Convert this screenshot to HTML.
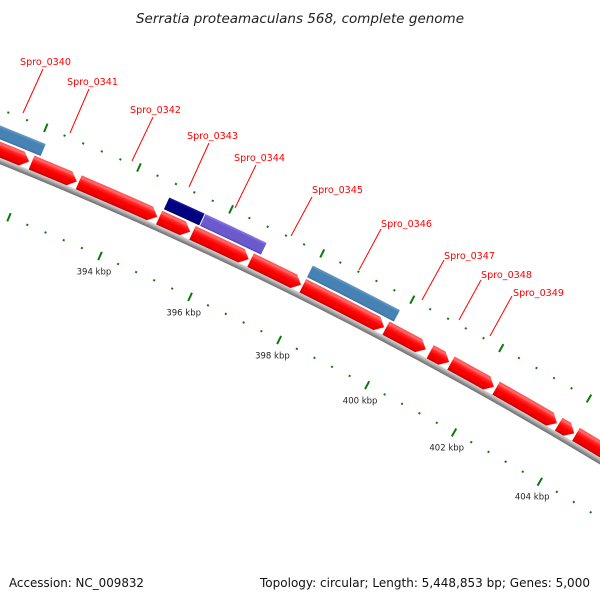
<!DOCTYPE html>
<html><head><meta charset="utf-8">
<style>
html,body{margin:0;padding:0;background:#fff;width:600px;height:600px;overflow:hidden;}
svg{display:block;overflow:hidden;}
text{font-family:"DejaVu Sans","Liberation Sans",sans-serif;}
</style></head>
<body>
<svg id="chart" width="600" height="600" viewBox="0 0 600 600" xmlns="http://www.w3.org/2000/svg">
<defs id="defs"></defs>
<rect width="600" height="600" fill="#fff"/>
<g id="plot"></g>
<text x="300" y="23" text-anchor="middle" font-size="13" font-style="italic" fill="#222" textLength="328" lengthAdjust="spacingAndGlyphs">Serratia proteamaculans 568, complete genome</text>
<text x="9" y="587" font-size="12" fill="#111" textLength="135" lengthAdjust="spacingAndGlyphs">Accession: NC_009832</text>
<text x="590" y="587" text-anchor="end" font-size="12" fill="#111" textLength="330" lengthAdjust="spacingAndGlyphs">Topology: circular; Length: 5,448,853 bp; Genes: 5,000</text>
</svg>
<script>
// ---- data (kbp) ----
const fwdStarts = [390.6, 392.0, 393.02, 394.77, 395.5, 396.78, 397.94, 399.8, 400.8, 401.27, 402.3, 403.74, 404.14];
const fwdEnds   = [391.95, 392.98, 394.73, 395.45, 396.74, 397.9, 399.76, 400.7, 401.23, 402.25, 403.7, 404.1, 406.0];
const otherStarts = [390.0, 394.79, 395.58, 397.94];
const otherEnds   = [392.12, 395.56, 396.92, 399.88];
const otherColors = ["steelblue", "navy", "slateblue", "steelblue"];
const tickLabels = [394, 396, 398, 400, 402, 404];
const geneNames = ["Spro_0340","Spro_0341","Spro_0342","Spro_0343","Spro_0344","Spro_0345","Spro_0346","Spro_0347","Spro_0348","Spro_0349"];
const geneLabelX = [20, 67, 130, 187, 234, 312, 381, 444, 481, 513];
const geneLabelY = [65, 85, 113, 139, 161, 193, 227, 259, 278, 296];
const geneLineTop = [[43,69],[89,89],[153,117],[209,143],[256,165],[312,197],[381,229],[444,260],[481,280],[512,296]];
const geneLineBot = [[23,113],[70,133],[132,161],[189,187],[235,208],[291,236],[359,270],[422,300],[459,320],[490,336]];

// ---- geometry: arc through backbone ----
const NS = "http://www.w3.org/2000/svg";
function circ(p1,p2,p3){
  const [ax,ay]=p1,[bx,by]=p2,[cx,cy]=p3;
  const d=2*(ax*(by-cy)+bx*(cy-ay)+cx*(ay-by));
  const ux=((ax*ax+ay*ay)*(by-cy)+(bx*bx+by*by)*(cy-ay)+(cx*cx+cy*cy)*(ay-by))/d;
  const uy=((ax*ax+ay*ay)*(cx-bx)+(bx*bx+by*by)*(ax-cx)+(cx*cx+cy*cy)*(bx-ax))/d;
  return [ux,uy,Math.hypot(ax-ux,ay-uy)];
}
const [CX,CY,R]=circ([0,161],[300,296],[600,461]);
const cal1=[100,256], cal2=[542,478];
const th1=Math.atan2(cal1[1]-CY,cal1[0]-CX), th2=Math.atan2(cal2[1]-CY,cal2[0]-CX);
const RIN=Math.hypot(cal1[0]-CX,cal1[1]-CY);
function theta(kbp){return th1+(kbp-394)*(th2-th1)/10;}
function pt(kbp,r){const t=theta(kbp);return [CX+r*Math.cos(t),CY+r*Math.sin(t)];}
function f(n){return n.toFixed(2);}

const plot=document.getElementById('plot');
const defs=document.getElementById('defs');
function grad(id,stops,r1){
  const g=document.createElementNS(NS,'radialGradient');
  g.setAttribute('id',id);g.setAttribute('gradientUnits','userSpaceOnUse');
  g.setAttribute('cx',CX);g.setAttribute('cy',CY);g.setAttribute('r',r1);
  stops.forEach(([rr,c])=>{const s=document.createElementNS(NS,'stop');
    s.setAttribute('offset',Math.max(0,Math.min(1,rr/r1)));s.setAttribute('stop-color',c);g.appendChild(s);});
  defs.appendChild(g);
}
grad('gBack',[[R-3,'#6e6e6e'],[R-1,'#8a8a8a'],[R+1,'#b5b5b5'],[R+3,'#d8d8d8']],R+3);
grad('gRed',[[R+3,'#b00000'],[R+4.5,'#e60000'],[R+10,'#ff0000'],[R+13.5,'#ff2a2a'],[R+15.5,'#ff6a6a'],[R+18,'#ff5050']],R+18);
const blueMap={steelblue:['#3a6c99','#4682b4','#6a9cc8'],navy:['#00004a','#000080','#1a1a8e'],slateblue:['#5040b0','#6a5acd','#8a7ce0']};
Object.keys(blueMap).forEach(k=>{const c=blueMap[k];
  grad('g_'+k,[[R+20,c[0]],[R+22,c[1]],[R+30,c[1]],[R+33,c[2]]],R+33);});

function arcPath(k1,k2,r1,r2,head){
  const a=pt(k1,r2);
  const hk = head ? Math.min(8/((th2-th1)/10*R), (k2-k1)*0.6) : 0;
  const b=pt(k2-hk,r2), tip=pt(k2,(r1+r2)/2), c=pt(k2-hk,r1), d=pt(k1,r1);
  let p=`M${f(a[0])},${f(a[1])} A${f(r2)},${f(r2)} 0 0 1 ${f(b[0])},${f(b[1])}`;
  if(head) p+=` L${f(tip[0])},${f(tip[1])}`;
  p+=` L${f(c[0])},${f(c[1])} A${f(r1)},${f(r1)} 0 0 0 ${f(d[0])},${f(d[1])} Z`;
  return p;
}

{
  const p=document.createElementNS(NS,'path');
  p.setAttribute('d',arcPath(388,408,R-3,R+3,false));
  p.setAttribute('fill','url(#gBack)');
  
  
  plot.appendChild(p);
}
fwdStarts.forEach((s,i)=>{
  const p=document.createElementNS(NS,'path');
  p.setAttribute('d',arcPath(s,fwdEnds[i],R+3,R+18,true));
  p.setAttribute('fill','url(#gRed)');
  
  
  plot.appendChild(p);
});
otherStarts.forEach((s,i)=>{
  const p=document.createElementNS(NS,'path');
  p.setAttribute('d',arcPath(s,otherEnds[i],R+20,R+33,false));
  p.setAttribute('fill','url(#g_'+otherColors[i]+')');
  
  
  plot.appendChild(p);
});
const ROUT=R+48;
for(let k=388;k<=408.001;k+=0.4){
  const kk=Math.round(k*10)/10;
  const major=Math.abs(kk/2-Math.round(kk/2))<1e-6;
  [RIN,ROUT].forEach((rr,ri)=>{
    const len=major?4.5:1;
    const a=pt(kk,rr-len),b=pt(kk,rr+len);
    const l=document.createElementNS(NS,'line');
    l.setAttribute('x1',f(a[0]));l.setAttribute('y1',f(a[1]));
    l.setAttribute('x2',f(b[0]));l.setAttribute('y2',f(b[1]));
    l.setAttribute('stroke','#0a7a0a');l.setAttribute('stroke-width','2');
    
    
    plot.appendChild(l);
  });
}
tickLabels.forEach(k=>{
  const p=pt(k,RIN-15);
  const t=document.createElementNS(NS,'text');
  t.setAttribute('x',f(p[0]));t.setAttribute('y',f(p[1]+5));
  t.setAttribute('text-anchor','middle');t.setAttribute('font-size','8.5');t.setAttribute('fill','#222');
  t.textContent=k+' kbp';
  
  
  plot.appendChild(t);
});
geneNames.forEach((n,i)=>{
  const l=document.createElementNS(NS,'line');
  l.setAttribute('x1',geneLineTop[i][0]);l.setAttribute('y1',geneLineTop[i][1]);
  l.setAttribute('x2',geneLineBot[i][0]);l.setAttribute('y2',geneLineBot[i][1]);
  l.setAttribute('stroke','#ff0000');l.setAttribute('stroke-width','1');
  
  
  plot.appendChild(l);
  const t=document.createElementNS(NS,'text');
  t.setAttribute('x',geneLabelX[i]);t.setAttribute('y',geneLabelY[i]);
  t.setAttribute('font-size','10');t.setAttribute('fill','#ff0000');
  t.setAttribute('textLength','51');t.setAttribute('lengthAdjust','spacingAndGlyphs');
  t.textContent=n;
  
  
  plot.appendChild(t);
});
</script>
</body></html>
